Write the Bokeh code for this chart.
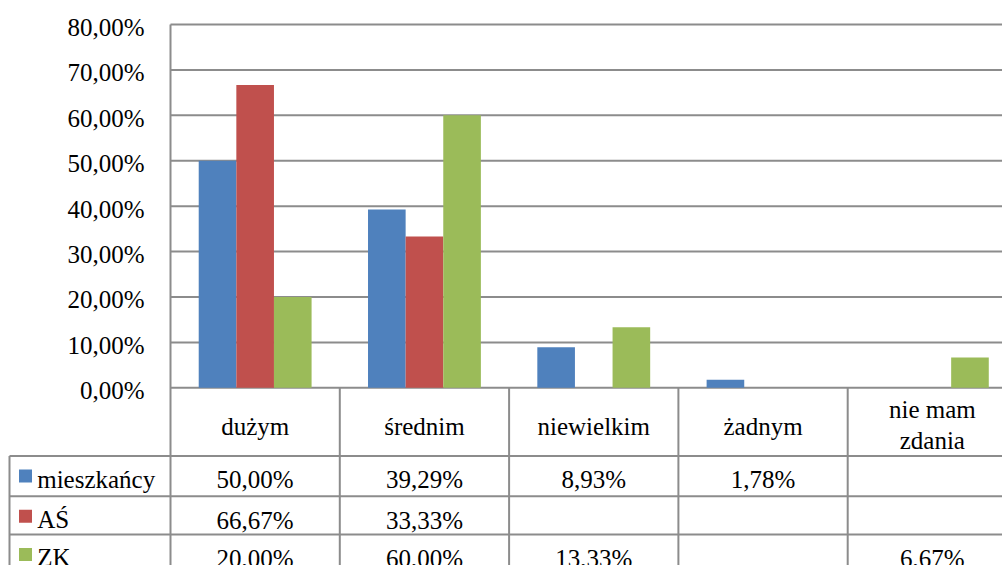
from bokeh.plotting import figure
from bokeh.models import Range1d
from bokeh.core.properties import value
from bokeh.embed import file_html
from bokeh.resources import INLINE

# ---------------- data ----------------
categories = ["dużym", "średnim", "niewielkim", "żadnym", "nie mam\nzdania"]
series_names = ["mieszkańcy", "AŚ", "ZK"]
mieszkancy = [50.00, 39.29, 8.93, 1.78, None]
as_values = [66.67, 33.33, None, None, None]
zk_values = [20.00, 60.00, 13.33, None, 6.67]
series_values = [mieszkancy, as_values, zk_values]
series_colors = ["#4F81BD", "#C0504D", "#9BBB59"]
y_ticks = [0, 10, 20, 30, 40, 50, 60, 70, 80]
y_tick_labels = ["0,00%", "10,00%", "20,00%", "30,00%", "40,00%",
                 "50,00%", "60,00%", "70,00%", "80,00%"]

# ---------------- layout (pixel geometry of the reference) ----------------
W, H = 1002, 565
X0 = 170.0      # x of the plot's left edge (px)
CW = 169.3      # category width (px)
Y0 = 387.3      # y of 0 % (px)
K = 4.541       # px per percent
BW = 1 / 4.5    # bar width (gap width 150 %)
TXT_SHIFT = 8   # empirical baseline correction (px)
FONT_NAME = "Liberation Serif"
FS = "25px"
GRID = "#8c8c8c"

def u(px):
    return (px - X0) / CW

def v(py):
    return (Y0 - py) / K

# main ranges in page pixels (y downwards); extra ranges for category / percent scales
p = figure(width=W, height=H,
           x_range=Range1d(0, W), y_range=Range1d(H, 0),
           output_backend="svg", toolbar_location=None,
           x_axis_location=None, y_axis_location=None,
           min_border=0)
p.grid.visible = False
p.outline_line_alpha = 0
p.extra_x_ranges = {"cat": Range1d(u(0), u(W))}
p.extra_y_ranges = {"pct": Range1d(v(H), v(0))}

RIGHT_U = u(1100)

# y tick labels
p.text(x=[144] * len(y_ticks), y=[Y0 - t * K + 11 - TXT_SHIFT for t in y_ticks],
       text=y_tick_labels, text_font=value(FONT_NAME), text_font_size=FS,
       text_align="right", text_baseline="alphabetic", text_color="black")

# horizontal gridlines (percent scale)
p.segment(x0=[0] * len(y_ticks), y0=y_ticks, x1=[RIGHT_U] * len(y_ticks), y1=y_ticks,
          line_color=GRID, line_width=2, x_range_name="cat", y_range_name="pct")

# bars
n_series = len(series_values)
for j, (vals, col) in enumerate(zip(series_values, series_colors)):
    xs = [i + 0.5 + (j - (n_series - 1) / 2) * BW for i, val in enumerate(vals) if val is not None]
    tops = [val for val in vals if val is not None]
    p.vbar(x=xs, top=tops, bottom=0, width=BW, fill_color=col, line_color=None,
           x_range_name="cat", y_range_name="pct")

# ---------------- data table ----------------
HEADER_BOTTOM = 455.5
ROW_TOPS = [455.5, 495.7, 534.0, 572.5]
nc = len(categories)
# left plot border + category boundaries
p.segment(x0=[0], y0=[Y0 - 80 * K], x1=[0], y1=[700], line_color=GRID, line_width=2,
          x_range_name="cat")
p.segment(x0=list(range(1, nc + 1)), y0=[Y0] * nc, x1=list(range(1, nc + 1)), y1=[700] * nc,
          line_color=GRID, line_width=2, x_range_name="cat")
# horizontal table lines
p.segment(x0=[9] * len(ROW_TOPS), y0=ROW_TOPS, x1=[1100] * len(ROW_TOPS), y1=ROW_TOPS,
          line_color=GRID, line_width=2)
# left border of the row label column
p.segment(x0=[9], y0=[HEADER_BOTTOM], x1=[9], y1=[700], line_color=GRID, line_width=2)

# category labels in header
for i, cat in enumerate(categories):
    lines = cat.split("\n")
    bases = [433.8] if len(lines) == 1 else [416.7, 448.3]
    for line, b in zip(lines, bases):
        p.text(x=[i + 0.5], y=[b - TXT_SHIFT], text=[line], text_font=value(FONT_NAME),
               text_font_size=FS, text_align="center", text_baseline="alphabetic",
               text_color="black", x_range_name="cat")

# rows: legend key, series name, values
for j, (name, vals, col) in enumerate(zip(series_names, series_values, series_colors)):
    top = ROW_TOPS[j]
    p.quad(left=[18.5], right=[31.5], top=[top + 13.5], bottom=[top + 26.5],
           fill_color=col, line_color=None)
    p.text(x=[36.7], y=[top + 31.2 - TXT_SHIFT], text=[name], text_font=value(FONT_NAME),
           text_font_size=FS, text_align="left", text_baseline="alphabetic",
           text_color="black")
    xs = [i + 0.5 for i, val in enumerate(vals) if val is not None]
    labels = [("%.2f%%" % val).replace(".", ",") for val in vals if val is not None]
    p.text(x=xs, y=[top + 31.8 - TXT_SHIFT] * len(xs), text=labels,
           text_font=value(FONT_NAME), text_font_size=FS, text_align="center",
           text_baseline="alphabetic", text_color="black", x_range_name="cat")

open("out.html", "w").write(file_html(p, INLINE))
